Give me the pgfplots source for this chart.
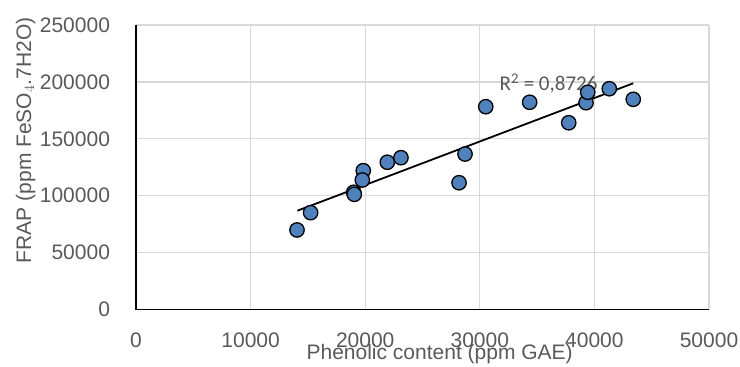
\documentclass[border=0pt]{standalone}
\usepackage{pgfplots}
\pgfplotsset{compat=1.18}
\usepackage{fontspec}
\setmainfont{Liberation Sans}
\newfontfamily\calib{Carlito}
\definecolor{tickgray}{RGB}{89,89,89}
\definecolor{gridgray}{RGB}{217,217,217}
\definecolor{ptblue}{RGB}{79,129,189}
\begin{document}
\begin{tikzpicture}
\begin{axis}[
  scale only axis,
  width=573pt, height=284.5pt,
  xmin=0, xmax=50000, ymin=0, ymax=250000,
  xtick={0,10000,20000,30000,40000,50000},
  ytick={0,50000,100000,150000,200000,250000},
  scaled ticks=false,
  /pgf/number format/fixed,
  /pgf/number format/1000 sep={},
  /pgf/number format/assume math mode=true,
  axis x line*=bottom, axis y line*=left,
  axis line style={black, line width=1.8pt, -},
  grid=major,
  major grid style={gridgray, line width=1.3pt},
  major tick length=0pt,
  tick label style={font=\fontsize{21}{24}\selectfont, text=tickgray},
  yticklabel style={xshift=-22.5pt},
  xticklabel style={yshift=-20pt},
  xlabel={Phenolic content (ppm GAE)},
  ylabel={FRAP (ppm FeSO$_4$.7H2O)},
  label style={font=\fontsize{21}{24}\selectfont, text=tickgray},
  xlabel style={at={(axis description cs:0.53,0)}, anchor=north, yshift=-31pt},
  ylabel style={at={(axis description cs:0,0.595)}, anchor=south, yshift=97pt},
  clip=false,
]
\addplot[only marks, mark=*, mark size=7.2pt, mark options={fill=ptblue, draw=black, line width=1.3pt}] coordinates {
(14050,69900)
(15240,85100)
(19000,103000)
(19050,101200)
(19830,122000)
(19750,113800)
(21930,129400)
(23120,133400)
(28190,111400)
(28710,136600)
(30520,178200)
(34350,182100)
(37760,164100)
(39270,181700)
(39420,190900)
(41300,194000)
(43390,184700)
};
\addplot[black, line width=1.8pt] coordinates {(14080,86800) (43390,198800)};
\node[text=tickgray, font=\calib\fontsize{21}{24}\selectfont] at (axis cs:36000,198600) {R\textsuperscript{2} = 0,8726};
\coordinate (O) at (rel axis cs:0,0);
\end{axis}
\pgfresetboundingbox
\path[use as bounding box] (O) ++(-136pt,-57.5pt) rectangle ++(740pt,367pt);
\end{tikzpicture}
\end{document}
